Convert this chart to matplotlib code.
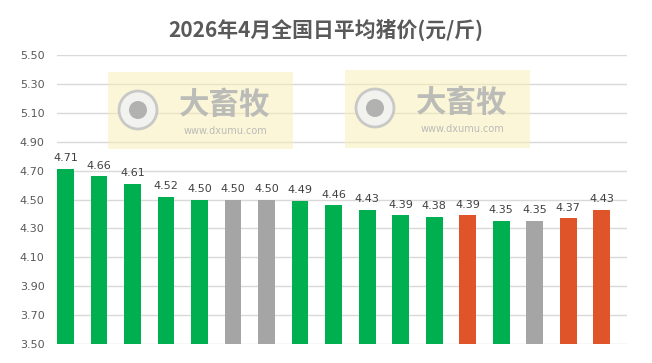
import matplotlib
matplotlib.use("Agg")
import matplotlib.pyplot as plt
from matplotlib.patches import Rectangle, Circle

plt.rcParams['font.family'] = ['Noto Sans CJK SC', 'DejaVu Sans']

title = "2026年4月全国日平均猪价(元/斤)"
values = [4.71, 4.66, 4.61, 4.52, 4.50, 4.50, 4.50, 4.49, 4.46, 4.43, 4.39, 4.38, 4.39, 4.35, 4.35, 4.37, 4.43]
kinds = ['g', 'g', 'g', 'g', 'g', 'y', 'y', 'g', 'g', 'g', 'g', 'g', 'o', 'g', 'y', 'o', 'o']
yticks = [3.50, 3.70, 3.90, 4.10, 4.30, 4.50, 4.70, 4.90, 5.10, 5.30, 5.50]
palette = {'g': '#00B050', 'y': '#A5A5A5', 'o': '#E0542A'}

fig = plt.figure(figsize=(6.52, 3.63), dpi=100)
ax = fig.add_axes([57/652, 1-344/363, (627-57)/652, (344-55)/363])

x = list(range(len(values)))
ax.bar(x, values, width=0.5, color=[palette[k] for k in kinds], zorder=3)
for xi, v in zip(x, values):
    ax.text(xi, v + 0.04, f"{v:.2f}", ha='center', va='bottom', fontsize=8, color='#404040',
            family='DejaVu Sans', zorder=4)

ax.set_ylim(3.5, 5.5)
ax.set_xlim(-0.25, 16.75)
ax.set_yticks(yticks)
ax.set_yticklabels([f"{t:.2f}" for t in yticks], fontsize=8, color='#595959', family='DejaVu Sans')
ax.tick_params(axis='y', length=0, pad=9)
ax.set_xticks([])
ax.grid(axis='y', color='#D9D9D9', linewidth=1, zorder=0)
for s in ax.spines.values():
    s.set_visible(False)

fig.text(0.5, 1-30/363, title, ha='center', va='center', fontsize=15, fontweight='bold', color='#595959')

# watermarks
for (x0, y0, w, h) in [(108, 72, 185, 77), (345, 70, 185, 78)]:
    fig.patches.append(Rectangle((x0/652, 1-(y0+h)/363), w/652, h/363, transform=fig.transFigure,
                                 facecolor='#F7EFB0', alpha=0.5, edgecolor='none', zorder=1))
    fig.patches.append(Circle((x0 + 30, 363 - (y0 + 38)), 19, transform=None,
                              facecolor='#F2F2F2', edgecolor='#C4C4C4', linewidth=2, alpha=0.9, zorder=6))
    fig.patches.append(Circle((x0 + 30, 363 - (y0 + 38)), 9, transform=None,
                              facecolor='#ABABAB', edgecolor='none', alpha=0.9, zorder=7))
    fig.text((x0 + 117)/652, 1-(y0 + 33)/363, "大畜牧", ha='center', va='center', fontsize=22,
             fontweight='bold', color='#B5B5B5', alpha=0.9, zorder=8)
    fig.text((x0 + 117)/652, 1-(y0 + 59)/363, "www.dxumu.com", ha='center', va='center', fontsize=7,
             color='#B5B5B5', alpha=0.9, zorder=8, family='DejaVu Sans')

fig.savefig("out.png", dpi=100)
